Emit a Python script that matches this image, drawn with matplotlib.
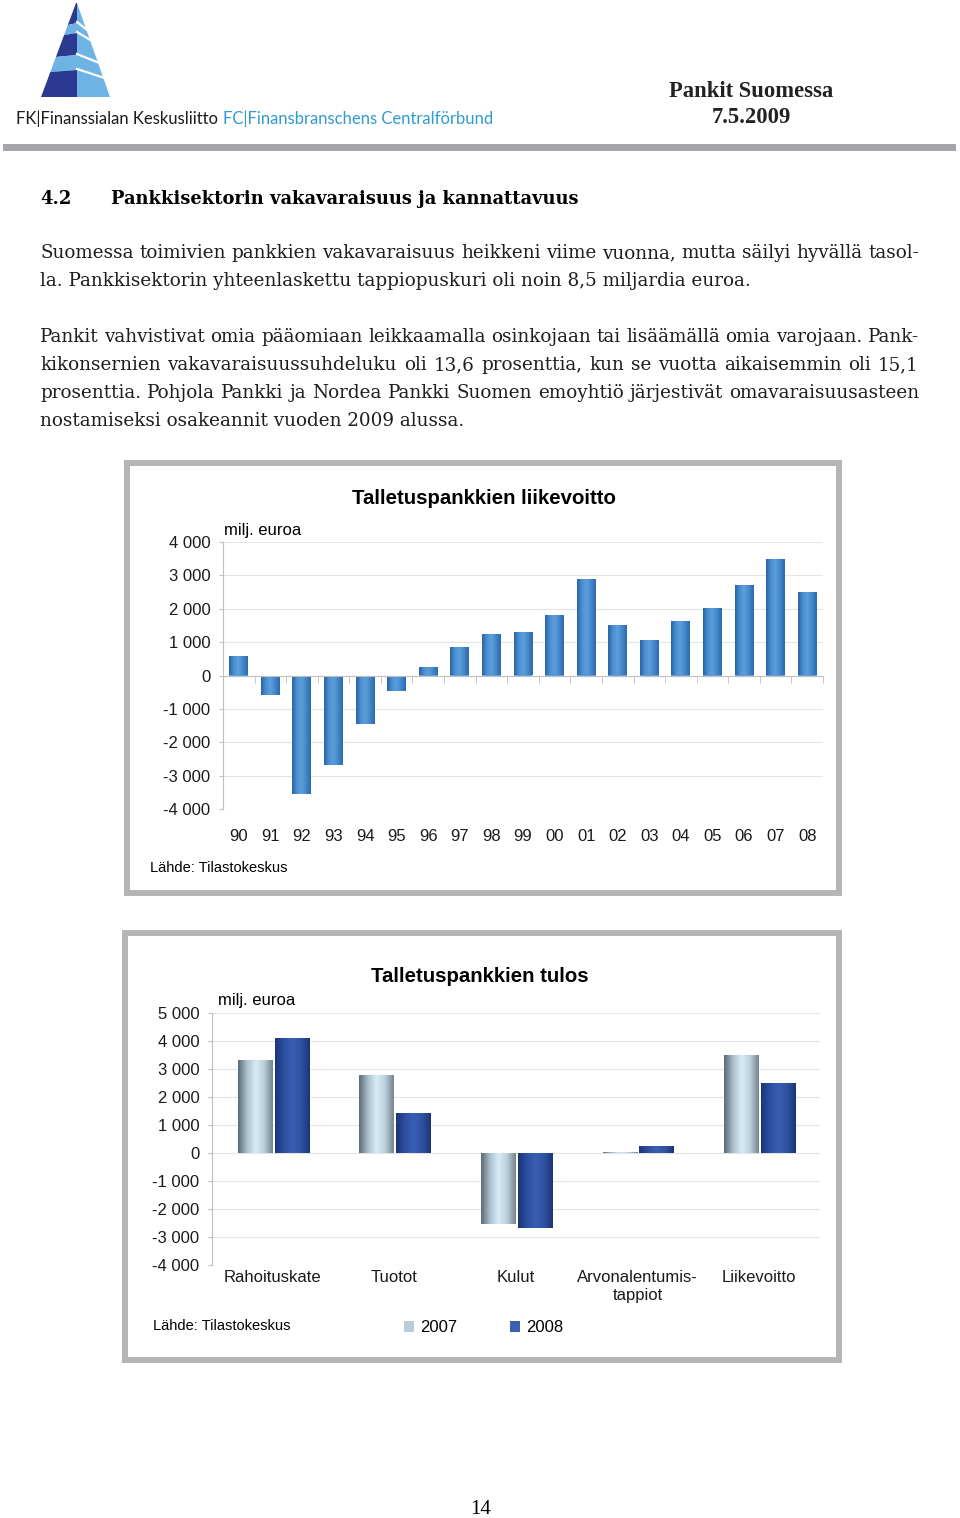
import numpy as np
import matplotlib
matplotlib.use('Agg')
import matplotlib.pyplot as plt
from matplotlib.colors import LinearSegmentedColormap
from matplotlib.patches import Polygon, Rectangle, Patch
from matplotlib.transforms import blended_transform_factory

# --- Data ---
YEARS = ['90', '91', '92', '93', '94', '95', '96', '97', '98', '99',
         '00', '01', '02', '03', '04', '05', '06', '07', '08']
PROFIT = [570, -580, -3540, -2680, -1440, -460, 250, 860, 1230, 1310,
          1800, 2900, 1500, 1060, 1630, 2010, 2700, 3480, 2500]

CATEGORIES = ['Rahoituskate', 'Tuotot', 'Kulut', 'Arvonalentumis-\ntappiot', 'Liikevoitto']
RESULT_2007 = [3320, 2790, -2560, 40, 3480]
RESULT_2008 = [4110, 1420, -2700, 240, 2500]

BODY_LINES = [
    ('Suomessa toimivien pankkien vakavaraisuus heikkeni viime vuonna, mutta säilyi hyvällä tasol-', True),
    ('la. Pankkisektorin yhteenlaskettu tappiopuskuri oli noin 8,5 miljardia euroa.', False),
    ('Pankit vahvistivat omia pääomiaan leikkaamalla osinkojaan tai lisäämällä omia varojaan. Pank-', True),
    ('kikonsernien vakavaraisuussuhdeluku oli 13,6 prosenttia, kun se vuotta aikaisemmin oli 15,1', True),
    ('prosenttia. Pohjola Pankki ja Nordea Pankki Suomen emoyhtiö järjestivät omavaraisuusasteen', True),
    ('nostamiseksi osakeannit vuoden 2009 alussa.', False),
]
BODY_BASELINES = [258, 286, 342, 370, 398, 426]

# --- Styles ---
W, H = 960, 1518
SERIF = 'DejaVu Serif'
SANS = 'Liberation Sans'
NAVY = '#2b3990'
LIGHT = '#6db3e3'
FRAME = '#b5b5b5'
GRID = '#e4e4e4'
AXIS = '#bfbfbf'
BODY_SIZE = 13.2

BLUE_GRAD = ['#2a62a6', '#4a8fd0', '#5c9fdc', '#4387cb', '#2d69ae']
GRAD_2007 = ['#5d6b75', '#a9bfcc', '#d8ecf8', '#bcd0dc', '#75858f']
GRAD_2008 = ['#1b3577', '#2c4fa0', '#3a5fb3', '#2f52a3', '#1c3677']


def thousands(v):
    return f'{int(v):,}'.replace(',', ' ')


def gradient_bars(ax, bars, colors):
    """Fill every bar with a horizontal gradient clipped to the bar."""
    cmap = LinearSegmentedColormap.from_list('grad', colors)
    grad = np.linspace(0, 1, 64).reshape(1, -1)
    for b in bars:
        x0, y0 = b.get_x(), b.get_y()
        im = ax.imshow(grad, extent=[x0, x0 + b.get_width(), y0, y0 + b.get_height()],
                       aspect='auto', cmap=cmap, interpolation='bicubic',
                       zorder=b.get_zorder() + 0.1)
        im.set_clip_path(b)


def justify(ax, line, y, x0, x1, renderer, **kw):
    words = line.split()
    texts = [ax.text(0, y, w, **kw) for w in words]
    widths = [t.get_window_extent(renderer).width for t in texts]
    gap = (x1 - x0 - sum(widths)) / (len(words) - 1)
    x = x0
    for t, w in zip(texts, widths):
        t.set_x(x)
        x += w + gap


def draw_logo(ax):
    def xl(y):
        return 76 - (76 - 41) * (y - 3) / 94

    def xr(y):
        return 78 + (110 - 78) * (y - 3) / 94

    ax.add_patch(Polygon([(77, 3), (xr(97), 97), (77, 97)], closed=True, color=LIGHT, lw=0))
    bands = [(3, 25, NAVY), (25, 35, LIGHT), (35, 57, NAVY), (57, 72, LIGHT), (72, 97, NAVY)]
    for y0, y1, c in bands:
        ax.add_patch(Polygon([(xl(y0), y0), (77, y0 - 2 if y0 > 3 else y0),
                              (77, y1 - 2 if y1 < 97 else y1), (xl(y1), y1)],
                             closed=True, color=c, lw=0))
    for yb in [25, 35, 57, 72]:
        ax.plot([77, xr(yb + 6) + 1], [yb - 3, yb + 6], color='white', lw=1.6)
    ax.text(16, 119, 'FK|Finanssialan Keskusliitto', fontsize=12, family='Lato',
            color='#1a1a1a', va='center')
    ax.text(223, 119, 'FC|Finansbranschens Centralförbund', fontsize=12, family='Lato',
            color='#2f9bd0', va='center')


fig = plt.figure(figsize=(W / 100, H / 100), dpi=100)
page = fig.add_axes([0, 0, 1, 1])
page.set_xlim(0, W)
page.set_ylim(H, 0)
page.axis('off')
renderer = fig.canvas.get_renderer()

# --- Header ---
draw_logo(page)
page.text(751, 97, 'Pankit Suomessa', family='Liberation Serif', fontweight='bold',
          fontsize=16.3, ha='center', va='baseline', color='#222222')
page.text(751, 123, '7.5.2009', family='Liberation Serif', fontweight='bold',
          fontsize=16.3, ha='center', va='baseline', color='#222222')
page.add_patch(Rectangle((3, 144), 953, 7, color='#a3a5a8', lw=0))

# --- Heading and body ---
page.text(40, 204, '4.2', family=SERIF, fontweight='bold', fontsize=12.9, va='baseline')
page.text(111, 204, 'Pankkisektorin vakavaraisuus ja kannattavuus', family=SERIF,
          fontweight='bold', fontsize=12.9, va='baseline')
for (line, just), y in zip(BODY_LINES, BODY_BASELINES):
    kw = dict(family=SERIF, fontsize=BODY_SIZE, va='baseline', color='#1e1e1e')
    if just:
        justify(page, line, y, 40, 919, renderer, **kw)
    else:
        page.text(40, y, line, **kw)

page.text(481, 1514, '14', family='Liberation Serif', fontsize=15, ha='center', va='baseline')

# --- Frames ---
page.add_patch(Rectangle((127, 463), 712, 430, fill=False, ec=FRAME, lw=4.3))
page.add_patch(Rectangle((125, 933), 714, 427, fill=False, ec=FRAME, lw=4.3))

# --- Chart 1: Talletuspankkien liikevoitto ---
page.text(484, 499, 'Talletuspankkien liikevoitto', family=SANS, fontweight='bold',
          fontsize=14.7, ha='center', va='center')
page.text(224, 531, 'milj. euroa', family=SANS, fontsize=12, va='center')
page.text(150, 868, 'Lähde: Tilastokeskus', family=SANS, fontsize=10.5, va='center')

ax1 = fig.add_axes([223 / W, 1 - 809 / H, 600 / W, 267 / H])
ax1.set_facecolor('none')
x1 = np.arange(len(YEARS))
bars1 = ax1.bar(x1, PROFIT, width=0.6, color=BLUE_GRAD[2], lw=0, zorder=2)
gradient_bars(ax1, bars1, BLUE_GRAD)
ax1.set_xlim(-0.5, len(YEARS) - 0.5)
ax1.set_ylim(-4000, 4000)
yt1 = np.arange(-4000, 4001, 1000)
ax1.set_yticks(yt1)
ax1.set_yticklabels([thousands(v) for v in yt1])
ax1.yaxis.grid(True, color=GRID, lw=0.8)
ax1.set_axisbelow(True)
for s in ['top', 'right']:
    ax1.spines[s].set_visible(False)
ax1.spines['left'].set_color(AXIS)
ax1.spines['bottom'].set_position(('data', 0))
ax1.spines['bottom'].set_color(AXIS)
ax1.set_xticks([])
ax1.set_xticks(np.arange(-0.5, len(YEARS), 1), minor=True)
ax1.tick_params(axis='x', which='minor', length=5, color=AXIS, labelbottom=False)
ax1.tick_params(axis='y', length=3, color=AXIS, pad=6, labelsize=12, labelcolor='#1a1a1a')
for lbl in ax1.get_yticklabels():
    lbl.set_family(SANS)
tr1 = blended_transform_factory(ax1.transData, ax1.transAxes)
for i, lbl in enumerate(YEARS):
    ax1.text(i, -0.103, lbl, transform=tr1, ha='center', va='center',
             family=SANS, fontsize=12, color='#1a1a1a')

# --- Chart 2: Talletuspankkien tulos ---
page.text(480, 976, 'Talletuspankkien tulos', family=SANS, fontweight='bold',
          fontsize=14.7, ha='center', va='center')
page.text(218, 1001, 'milj. euroa', family=SANS, fontsize=12, va='center')
page.text(153, 1326, 'Lähde: Tilastokeskus', family=SANS, fontsize=10.5, va='center')

ax2 = fig.add_axes([212 / W, 1 - 1264.7 / H, 608 / W, 252 / H])
ax2.set_facecolor('none')
x2 = np.arange(len(CATEGORIES))
bw = 0.28
bars07 = ax2.bar(x2 - 0.148, RESULT_2007, width=bw, color=GRAD_2007[2], lw=0, zorder=2)
bars08 = ax2.bar(x2 + 0.155, RESULT_2008, width=bw, color=GRAD_2008[2], lw=0, zorder=2)
gradient_bars(ax2, bars07, GRAD_2007)
gradient_bars(ax2, bars08, GRAD_2008)
ax2.set_xlim(-0.5, len(CATEGORIES) - 0.5)
ax2.set_ylim(-4000, 5000)
yt2 = np.arange(-4000, 5001, 1000)
ax2.set_yticks(yt2)
ax2.set_yticklabels([thousands(v) for v in yt2])
ax2.yaxis.grid(True, color=GRID, lw=0.8)
ax2.set_axisbelow(True)
for s in ['top', 'right', 'bottom']:
    ax2.spines[s].set_visible(False)
ax2.spines['left'].set_color(AXIS)
ax2.set_xticks(x2)
ax2.set_xticklabels(CATEGORIES)
ax2.tick_params(axis='x', length=0, pad=4, labelsize=12, labelcolor='#1a1a1a')
ax2.tick_params(axis='y', length=3, color=AXIS, pad=6, labelsize=12, labelcolor='#1a1a1a')
for lbl in ax2.get_xticklabels() + ax2.get_yticklabels():
    lbl.set_family(SANS)

handles = [Patch(facecolor='#b9cbd8', edgecolor='none', label='2007'),
           Patch(facecolor=GRAD_2008[2], edgecolor='none', label='2008')]
fig.legend(handles=handles, loc='center left', bbox_to_anchor=(404 / W, 1 - 1328 / H),
           ncol=2, frameon=False, borderpad=0, borderaxespad=0,
           handlelength=0.6, handleheight=0.6, handletextpad=0.36, columnspacing=3.2,
           prop={'family': SANS, 'size': 12})

fig.savefig('out.png', dpi=100, facecolor='white')
